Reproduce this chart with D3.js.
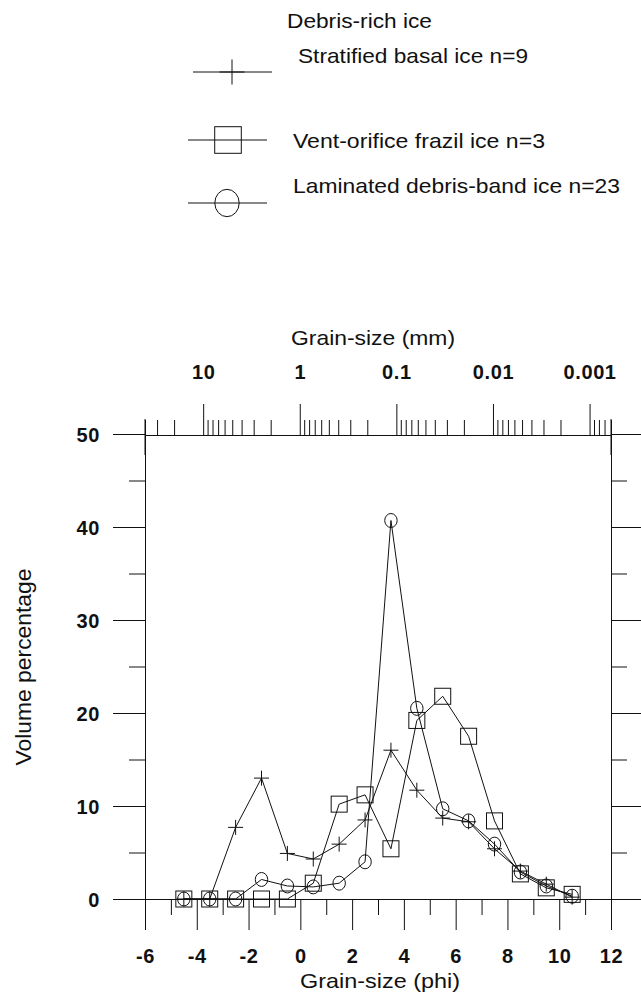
<!DOCTYPE html>
<html>
<head>
<meta charset="utf-8">
<script src="https://cdn.jsdelivr.net/npm/d3@7"></script>
<style>
  body { margin: 0; background: #fff; }
  svg { display: block; font-family: "Liberation Sans", Arial, sans-serif; }
</style>
</head>
<body>
<svg id="chart" width="641" height="993"></svg>
<script>
// data
const phi = [-4.5, -3.5, -2.5, -1.5, -0.5, 0.5, 1.5, 2.5, 3.5, 4.5, 5.5, 6.5, 7.5, 8.5, 9.5, 10.5]
const stratified = [0, 0, 7.7, 13.0, 4.9, 4.3, 5.9, 8.5, 16.0, 11.7, 8.7, 8.3, 5.4, 3.0, 1.6, 0.2]
const vent = [0, 0, 0, 0, 0, 1.7, 10.2, 11.2, 5.4, 19.2, 21.8, 17.5, 8.4, 2.7, 1.2, 0.5]
const laminated = [0, 0, 0, 2.1, 1.4, 1.3, 1.7, 4.0, 40.7, 20.5, 9.7, 8.4, 5.9, 2.9, 1.4, 0.3]

const legendTitle = "Debris-rich ice"
const legendNames = ["Stratified basal ice n=9", "Vent-orifice frazil ice n=3", "Laminated debris-band ice n=23"]

const phiTicks = [-6, -4, -2, 0, 2, 4, 6, 8, 10, 12]
const phiMinor = [-5, -3, -1, 1, 3, 5, 7, 9, 11]
const volTicks = [0, 10, 20, 30, 40, 50]
const volMinor = [5, 15, 25, 35, 45]
const mmLabels = [10, 1, 0.1, 0.01, 0.001]
const mmExtent = [40, 0.0006]

const svg = d3.select('#chart')

let x = d3.scaleLinear().domain([-6, 12]).range([145, 611])
let y = d3.scaleLinear().domain([0, 50]).range([899, 434])
let mm = d3.scaleLog().domain(mmExtent).range([145, 611])

const ink = '#111'
const plain = d => String(d)   // keep hyphen minus like the original

function styleAxis(g) {
    g.selectAll('path, line').attr('stroke', ink).attr('stroke-width', 1)
    g.selectAll('text')
        .attr('fill', ink)
        .style('font-size', '20px')
        .style('font-weight', 'bold')
        .style('letter-spacing', '0.6px')
        .style('font-family', '"Liberation Sans", Arial, sans-serif')
}

// left axis
svg.append('g').attr('transform', 'translate(145,0)')
    .call(d3.axisLeft(y).tickValues(volMinor).tickSize(16).tickFormat('').tickSizeOuter(0))
    .call(styleAxis)
svg.append('g').attr('transform', 'translate(145,0)')
    .call(d3.axisLeft(y).tickValues(volTicks).tickSize(32).tickPadding(13).tickFormat(plain).tickSizeOuter(0))
    .call(styleAxis)
    .call(g => g.selectAll('text').attr('dy', '0.38em'))

// right axis
svg.append('g').attr('transform', 'translate(611,0)')
    .call(d3.axisRight(y).tickValues(volMinor).tickSize(16).tickFormat('').tickSizeOuter(0))
    .call(styleAxis)
svg.append('g').attr('transform', 'translate(611,0)')
    .call(d3.axisRight(y).tickValues(volTicks).tickSize(30).tickFormat('').tickSizeOuter(0))
    .call(styleAxis)

// bottom axis (phi)
svg.append('g').attr('transform', `translate(0,${y(0)})`)
    .call(d3.axisBottom(x).tickValues(phiMinor).tickSize(16).tickFormat('').tickSizeOuter(0))
    .call(styleAxis)
svg.append('g').attr('transform', `translate(0,${y(0)})`)
    .call(d3.axisBottom(x).tickValues(phiTicks).tickSize(31).tickFormat(plain).tickSizeOuter(0))
    .call(styleAxis)
    .call(g => g.selectAll('text').attr('y', 64).attr('dy', 0))

// top axis (mm)
const isDecade = v => Math.abs(Math.log10(v) - Math.round(Math.log10(v))) < 1e-9
svg.append('g').attr('transform', `translate(0,${y(50) + 1})`)
    .call(d3.axisTop(mm).tickValues(mm.ticks().filter(v => !isDecade(v))).tickSize(15).tickFormat('').tickSizeOuter(0))
    .call(styleAxis)
svg.append('g').attr('transform', `translate(0,${y(50) + 1})`)
    .call(d3.axisTop(mm).tickValues(mmLabels).tickSize(31).tickPadding(25).tickFormat(d3.format('~g')).tickSizeOuter(0))
    .call(styleAxis)
svg.append('g').selectAll('line')
    .data(mm.range())
    .join('line')
    .attr('x1', d => d).attr('x2', d => d)
    .attr('y1', y(50) - 15).attr('y2', y(50) + 21)
    .attr('stroke', ink)

// axis titles
svg.append('text').attr('x', 373).attr('y', 345)
    .attr('text-anchor', 'middle').attr('textLength', 164).attr('lengthAdjust', 'spacingAndGlyphs')
    .style('font-size', '21px').attr('fill', ink).text('Grain-size (mm)')
svg.append('text').attr('x', 380).attr('y', 988)
    .attr('text-anchor', 'middle').attr('textLength', 160).attr('lengthAdjust', 'spacingAndGlyphs')
    .style('font-size', '21px').attr('fill', ink).text('Grain-size (phi)')
svg.append('text').attr('transform', 'translate(31,667) rotate(-90)')
    .attr('text-anchor', 'middle').attr('textLength', 197).attr('lengthAdjust', 'spacingAndGlyphs')
    .style('font-size', '22px').attr('fill', ink).text('Volume percentage')

// markers
function drawMarker(g, type, s) {
    if (type === 'cross') {
        g.append('line').attr('x1', -s).attr('x2', s).attr('stroke', ink)
        g.append('line').attr('y1', -s).attr('y2', s).attr('stroke', ink)
    } else if (type === 'square') {
        g.append('rect').attr('x', -s).attr('y', -s).attr('width', 2 * s).attr('height', 2 * s)
            .attr('fill', 'none').attr('stroke', ink)
    } else {
        g.append('ellipse').attr('rx', s * 0.83).attr('ry', s * 0.93)
            .attr('fill', 'none').attr('stroke', ink)
    }
}

const series = [
    { values: stratified, type: 'cross', size: 7.5 },
    { values: vent, type: 'square', size: 8 },
    { values: laminated, type: 'circle', size: 7.5 }
]

const line = d3.line().x(d => x(d[0])).y(d => y(d[1]))

series.forEach(s => {
    const pts = d3.zip(phi, s.values)
    svg.append('path').datum(pts)
        .attr('d', line)
        .attr('fill', 'none')
        .attr('stroke', ink)
        .attr('stroke-width', 1)
    svg.append('g').selectAll('g')
        .data(pts)
        .join('g')
        .attr('transform', d => `translate(${x(d[0])},${y(d[1])})`)
        .each(function () { drawMarker(d3.select(this), s.type, s.size) })
})

// legend
svg.append('text').attr('x', 287).attr('y', 28)
    .attr('textLength', 145).attr('lengthAdjust', 'spacingAndGlyphs')
    .style('font-size', '21px').attr('fill', ink).text(legendTitle)

const legendRows = [
    { type: 'cross', size: 12.5, lx: [193, 272], cx: 232, cy: 72, tx: 298, ty: 63, len: 230 },
    { type: 'square', size: 13.3, lx: [188, 267], cx: 228, cy: 140, tx: 293, ty: 148, len: 252 },
    { type: 'circle', size: 14.7, lx: [188, 267], cx: 227, cy: 203, tx: 293, ty: 193, len: 327 }
]

legendRows.forEach((r, i) => {
    svg.append('line').attr('x1', r.lx[0]).attr('x2', r.lx[1]).attr('y1', r.cy).attr('y2', r.cy)
        .attr('stroke', ink)
    let g = svg.append('g').attr('transform', `translate(${r.cx},${r.cy})`)
    drawMarker(g, r.type, r.size)
    svg.append('text').attr('x', r.tx).attr('y', r.ty)
        .attr('textLength', r.len).attr('lengthAdjust', 'spacingAndGlyphs')
        .style('font-size', '21px').attr('fill', ink).text(legendNames[i])
})
</script>
</body>
</html>
